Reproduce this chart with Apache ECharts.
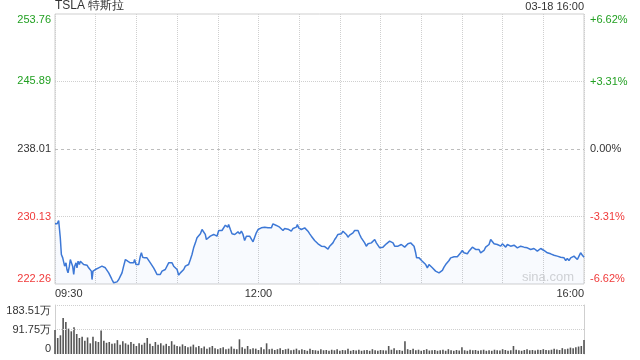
<!DOCTYPE html>
<html><head><meta charset="utf-8">
<script src="https://cdn.jsdelivr.net/npm/echarts@6/dist/echarts.min.js"></script>
<style>html,body{margin:0;padding:0;background:#fff}#c{width:640px;height:360px}</style>
</head><body><div id="c"></div>
<script>
const titleText = 'TSLA 特斯拉';
const stampText = '03-18 16:00';
const prevClose = 238.01;
const priceTicks = [222.26, 230.13, 238.01, 245.89, 253.76];
const pctTicks = [-6.62, -3.31, 0, 3.31, 6.62];
const timeTicks = [0, 150, 390];
const timeLabels = ['09:30', '12:00', '16:00'];
const volTicks = [0, 91.75, 183.51];
const volTickLabels = ['0', '91.75万', '183.51万'];

// minutes after 09:30
const minutes = [0,1.5,2.7,3.2,3.9,4.7,5.7,7.1,8.1,8.8,9.6,10.6,11.3,12.0,13.0,13.8,14.5,15.5,16.2,17.0,18.0,18.7,19.9,21.1,22.4,23.6,24.8,26.0,26.8,27.3,28.0,29.0,29.7,31.0,32.2,33.4,34.6,35.9,37.1,38.3,39.6,40.8,42.0,43.3,44.5,45.7,47.0,48.2,49.4,50.6,51.9,52.6,53.6,54.3,55.5,56.8,58.0,58.7,59.7,60.5,61.7,62.9,63.7,64.6,66.1,67.8,69.1,70.3,71.5,72.7,74.0,75.2,76.4,77.6,78.9,80.1,81.3,82.6,83.8,85.0,86.3,87.5,88.7,90.0,91.2,92.4,93.6,94.9,96.1,97.3,98.5,99.8,101.0,102.2,103.5,104.7,105.9,107.2,108.4,109.6,110.8,111.6,112.8,114.5,115.7,117.0,118.2,119.4,120.7,121.9,123.1,124.4,125.6,126.3,127.3,128.0,129.3,130.5,
131.2,132.5,133.7,134.9,136.1,137.4,138.6,139.8,141.1,142.3,143.5,144.7,146.0,147.2,148.4,149.7,150.9,152.1,153.3,154.6,155.8,157.0,158.3,159.5,160.7,161.9,163.2,164.4,165.6,166.9,168.1,169.3,170.5,171.8,173.0,174.2,175.5,176.7,177.9,178.7,179.6,180.4,181.6,182.8,184.1,185.3,186.5,187.8,189.0,190.2,191.4,192.7,193.9,195.1,196.4,197.6,198.8,200.0,201.3,202.5,203.7,204.9,206.2,207.4,208.6,209.9,211.1,212.3,213.5,214.8,216.0,217.2,218.5,219.7,220.9,222.2,223.4,224.6,225.8,227.1,228.3,229.5,230.8,232.0,233.2,234.4,235.7,236.9,238.1,239.4,240.6,241.8,243.0,244.3,245.5,246.7,248.0,249.2,250.4,251.6,252.9,254.1,255.3,256.6,257.8,259.0,260.2,
261.0,262.2,263.4,264.7,265.9,266.6,268.4,269.6,270.8,272.1,273.3,274.5,275.7,277.0,278.2,279.4,280.6,281.9,283.1,284.3,285.6,286.8,288.0,289.2,290.5,291.7,292.9,294.2,295.4,296.6,297.9,299.1,300.3,301.5,302.8,304.0,305.2,306.5,307.7,308.9,310.1,311.4,312.6,313.8,315.1,316.3,317.5,318.7,320.0,321.2,322.4,323.7,324.9,326.1,327.3,328.6,329.8,331.0,332.3,333.5,334.7,335.9,337.2,338.4,339.6,340.9,342.1,343.3,344.5,345.8,347.0,348.2,349.5,350.7,351.9,353.1,354.4,355.6,356.8,358.1,359.3,360.5,361.7,363.0,364.2,365.4,366.7,367.9,369.1,370.3,371.6,372.8,374.0,375.3,376.5,377.7,378.9,380.2,381.4,382.6,383.9,385.1,386.3,387.5,388.8,390.0];

const prices = [229.28,229.28,229.67,229.79,227.65,225.70,225.31,224.34,224.73,223.95,223.56,224.34,225.12,225.31,224.34,223.37,224.34,224.73,224.15,224.92,224.53,224.92,224.73,224.53,224.34,224.46,224.15,223.95,223.76,222.78,223.76,223.56,223.95,223.76,224.15,224.22,224.34,224.34,224.15,223.95,223.56,223.17,222.78,222.40,222.47,222.51,222.78,223.17,223.56,224.34,225.12,225.31,224.92,225.12,224.73,224.92,224.73,225.12,224.53,224.53,224.53,225.51,225.90,225.39,225.31,225.31,225.12,224.73,224.53,224.15,223.76,223.37,223.56,223.37,223.76,223.95,223.95,224.15,224.73,224.53,224.73,224.34,224.53,223.95,223.29,223.56,223.76,223.95,224.34,224.53,224.53,225.12,225.70,226.48,227.06,227.65,227.76,228.11,228.62,228.62,228.04,227.45,227.65,227.84,228.04,228.04,228.23,227.84,228.50,228.62,228.50,228.62,229.12,229.28,228.89,229.20,228.62,228.11,
227.96,228.04,228.23,228.35,228.11,228.42,228.04,227.34,227.84,227.65,227.84,227.65,227.18,227.26,228.23,228.62,228.50,228.81,228.74,228.89,229.01,228.81,228.62,228.81,229.28,229.12,229.09,229.05,228.89,228.81,228.50,228.74,228.62,228.66,228.50,228.42,228.74,228.62,228.89,229.20,228.81,229.01,228.62,228.42,228.81,228.62,228.42,228.11,227.84,227.65,227.34,227.18,226.95,226.79,226.67,226.56,226.63,226.56,226.32,226.67,226.87,227.06,227.45,227.72,228.04,228.11,228.11,228.42,228.50,228.04,227.72,227.96,228.11,228.23,228.50,228.62,228.50,228.04,227.65,227.45,227.06,226.67,226.95,227.18,227.06,227.26,227.45,227.06,226.95,226.48,226.67,226.56,226.79,226.95,227.06,227.26,227.26,227.06,226.67,226.87,226.67,226.48,226.87,227.06,226.56,226.79,226.95,
227.18,227.06,226.87,226.67,225.90,225.31,225.31,225.24,224.92,224.73,224.53,224.15,224.53,224.34,224.15,223.95,223.76,223.84,223.56,223.45,223.84,224.22,224.53,224.73,225.00,225.31,225.39,225.43,225.31,225.43,225.62,225.90,226.17,225.90,225.70,225.78,226.09,226.29,226.56,226.40,226.29,226.09,226.29,225.90,226.09,226.17,226.56,226.48,226.87,227.45,227.34,226.95,227.06,226.87,227.06,226.67,226.95,226.79,226.56,226.87,226.95,226.67,226.87,226.79,226.95,226.48,226.56,226.67,226.79,226.56,226.79,226.48,226.67,226.29,226.09,226.40,226.56,226.09,226.29,226.40,226.29,226.17,226.09,225.90,226.01,225.78,225.70,225.62,225.70,225.51,225.62,225.39,225.23,225.31,225.00,225.24,225.00,225.31,225.12,225.51,225.51,225.12,225.51,225.90,225.62,225.39];

// volume, 万股 per 2 minutes starting 09:30
const volumes = [90,60,70,135,120,95,85,100,75,60,65,50,62,40,65,48,45,88,50,42,
45,38,40,52,35,48,40,35,45,38,30,40,35,42,60,38,30,45,35,40,
32,38,30,48,35,30,28,36,30,25,28,35,25,30,22,28,20,25,30,22,
18,22,25,18,20,28,20,18,55,25,20,30,18,22,20,15,25,18,40,18,
20,15,18,22,15,18,20,14,16,20,14,18,15,12,20,15,14,12,18,14,
15,12,16,14,18,12,15,14,20,12,15,13,16,12,14,15,12,18,14,12,
15,14,13,30,16,22,14,15,12,48,18,15,20,14,16,12,15,18,13,14,
15,12,14,16,12,18,14,12,15,13,25,14,12,16,14,15,12,14,16,12,
14,12,16,14,13,18,15,12,14,30,16,14,12,15,18,14,15,13,16,15,
18,15,14,16,20,17,15,22,18,20,24,22,25,28,30,52];

const GREEN = '#22a022', RED = '#f03a3a', DARK = '#333';
const FONT = 'Liberation Sans, Arial, sans-serif';

const chart = echarts.init(document.getElementById('c'), null, {renderer: 'canvas'});
chart.setOption({
  animation: false,
  textStyle: {fontFamily: FONT},
  title: [
    {text: titleText, left: 55, top: 0, padding: 0, textStyle: {fontSize: 12, fontWeight: 'normal', color: DARK, fontFamily: FONT}},
    {text: stampText, right: 56, top: 1, padding: 0, textStyle: {fontSize: 11, fontWeight: 'normal', color: DARK, fontFamily: FONT}}
  ],
  graphic: [{type: 'text', right: 66, top: 271, silent: true, style: {text: 'sina.com', fill: '#d4d4d4', font: '13px ' + FONT}}],
  grid: [
    {left: 55, right: 56, top: 14, height: 270, show: true, borderColor: '#cfcfcf', borderWidth: 1},
    {left: 55, right: 56, top: 305, height: 49}
  ],
  xAxis: [
    {type: 'value', gridIndex: 0, min: 0, max: 390, interval: 30,
     axisLine: {show: false}, axisTick: {show: false},
     splitLine: {show: true, lineStyle: {type: 'dotted', color: '#cfcfcf'}},
     axisLabel: {customValues: timeTicks, formatter: v => timeLabels[timeTicks.indexOf(v)] || '',
       alignMinLabel: 'left', alignMaxLabel: 'right', margin: 4, fontSize: 11, color: DARK, fontFamily: FONT}},
    {type: 'value', gridIndex: 1, min: 0, max: 390, interval: 30,
     axisLine: {show: false}, axisTick: {show: false}, splitLine: {show: false}, axisLabel: {show: false}}
  ],
  yAxis: [
    {type: 'value', gridIndex: 0, position: 'left', min: priceTicks[0], max: priceTicks[4],
     axisLine: {show: false}, axisTick: {show: false}, splitLine: {show: false},
     axisLabel: {customValues: priceTicks, formatter: v => Number(v).toFixed(2), margin: 4, fontSize: 11, fontFamily: FONT,
       verticalAlignMinLabel: 'bottom', verticalAlignMaxLabel: 'top',
       color: v => { const n = parseFloat(v); return n > prevClose + 0.001 ? GREEN : (n < prevClose - 0.001 ? RED : DARK); }}},
    {type: 'value', gridIndex: 0, position: 'right', min: pctTicks[0], max: pctTicks[4],
     axisLine: {show: false}, axisTick: {show: false}, splitLine: {show: false},
     axisLabel: {customValues: pctTicks, formatter: v => { const n = Number(v); return (n > 0 ? '+' : '') + n.toFixed(2) + '%'; },
       margin: 6, fontSize: 11, fontFamily: FONT,
       verticalAlignMinLabel: 'bottom', verticalAlignMaxLabel: 'top',
       color: v => { const n = parseFloat(v); return n > 0.001 ? GREEN : (n < -0.001 ? RED : DARK); }}},
    {type: 'value', gridIndex: 1, position: 'left', min: volTicks[0], max: volTicks[2],
     axisLine: {show: true, lineStyle: {color: '#cfcfcf'}}, axisTick: {show: false}, splitLine: {show: false},
     axisLabel: {customValues: volTicks, formatter: v => volTickLabels[volTicks.indexOf(Number(v))] || '',
       margin: 4, fontSize: 11, color: DARK, fontFamily: FONT,
       verticalAlignMinLabel: 'bottom', verticalAlignMaxLabel: 'top'}},
    {type: 'value', gridIndex: 1, position: 'right', min: volTicks[0], max: volTicks[2],
     axisLine: {show: true, lineStyle: {color: '#cfcfcf'}}, axisTick: {show: false}, splitLine: {show: false}, axisLabel: {show: false}}
  ],
  series: [
    {type: 'line', xAxisIndex: 0, yAxisIndex: 0, showSymbol: false, symbol: 'none',
     data: minutes.map((m, i) => [m, prices[i]]),
     lineStyle: {color: '#3d78d6', width: 1.5},
     areaStyle: {color: 'rgba(61,120,214,0.05)'},
     markLine: {silent: true, symbol: 'none', label: {show: false},
       data: [
         {yAxis: priceTicks[3], lineStyle: {type: 'dotted', color: '#cfcfcf', width: 1}},
         {yAxis: priceTicks[2], lineStyle: {type: [3, 3], color: '#bdbdbd', width: 1}},
         {yAxis: priceTicks[1], lineStyle: {type: 'dotted', color: '#cfcfcf', width: 1}}
       ]}},
    {type: 'bar', xAxisIndex: 1, yAxisIndex: 2, barWidth: 1.6,
     data: volumes.map((v, i) => [i * 2, v]),
     itemStyle: {color: '#555'},
     markLine: {silent: true, symbol: 'none', label: {show: false},
       data: [
         {yAxis: volTicks[1], lineStyle: {type: 'dotted', color: '#cfcfcf', width: 1}},
         {yAxis: volTicks[2], lineStyle: {type: 'dotted', color: '#cfcfcf', width: 1}}
       ]}}
  ]
});
</script></body></html>
